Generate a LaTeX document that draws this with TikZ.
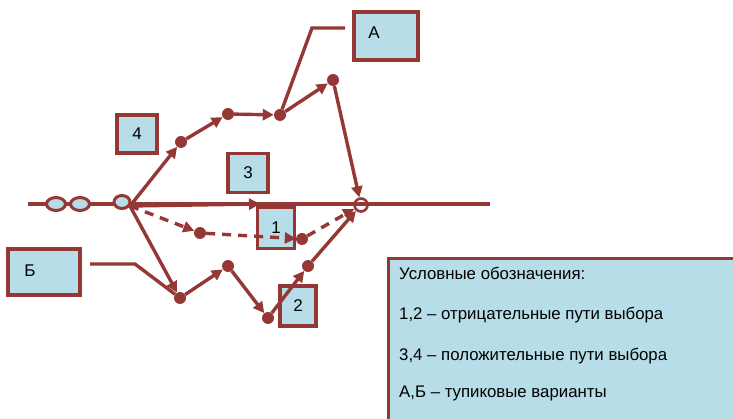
\documentclass[tikz,border=0pt]{standalone}
\usepackage{fontspec}
\setmainfont{Liberation Sans}
\usetikzlibrary{arrows.meta,shapes.geometric}
\definecolor{dred}{HTML}{953735}
\definecolor{lblue}{HTML}{B7DDE8}
\tikzset{
  ln/.style={draw=dred,line width=3.4pt},
  arr/.style={ln,-{Triangle[length=11pt,width=11pt]}},
  darr/.style={arr,dash pattern=on 9pt off 7pt},
  dot/.style={circle,fill=dred,inner sep=0pt,minimum size=12pt},
  lbl/.style={draw=dred,line width=3.4pt,fill=lblue,inner sep=0pt,font=\fontsize{17}{19}\selectfont},
  ov/.style={ellipse,draw=dred,line width=3pt,fill=lblue,minimum width=19pt,minimum height=13pt,inner sep=0pt},
  leg/.style={anchor=west,font=\fontsize{16.8}{19}\selectfont,inner sep=0pt}
}
\begin{document}
\begin{tikzpicture}[x=1pt,y=-1pt]
\useasboundingbox (0,0) rectangle (733,419);
% legend
\node[draw=dred,line width=3.4pt,fill=lblue,minimum width=360pt,minimum height=175pt,anchor=north west,inner sep=0pt] (legend) at (387,257) {};
\node[leg] (l0) at (399,273) {Условные обозначения:};
\node[leg] (l1) at (399,315) {1,2 – отрицательные пути выбора};
\node[leg] (l2) at (399,356) {3,4 – положительные пути выбора};
\node[leg] (l3) at (399,393) {А,Б – тупиковые варианты};
% label boxes
\node[lbl,minimum width=64pt,minimum height=48pt] (A) at (386,36) {};
\node[font=\fontsize{17}{19}\selectfont] (Atxt) at (374,33) {А};
\node[lbl,minimum width=40pt,minimum height=38pt] (n4) at (137,134) {4};
\node[lbl,minimum width=40pt,minimum height=39pt] (n3) at (248,173) {3};
\node[lbl,minimum width=37pt,minimum height=41pt] (n1) at (276,228) {1};
\node[lbl,minimum width=36pt,minimum height=40pt] (n2) at (298,306) {2};
\node[lbl,minimum width=72pt,minimum height=46pt] (B) at (44,272) {};
\node[font=\fontsize{17}{19}\selectfont] (Btxt) at (30,271) {Б};
% main line
\coordinate (L) at (28,204);
\coordinate (R) at (490,204);
\draw[ln] (L) -- (R);
\node[ov] (o1) at (56,204) {};
\node[ov] (o2) at (80,204) {};
\node[ov,minimum width=16pt] (o3) at (122,202) {};
\coordinate (S) at (130,206);
\node[circle,draw=dred,line width=2.6pt,minimum size=13pt,inner sep=0pt] (E) at (361,205) {};
% dots
\node[dot] (t1) at (181,142) {};
\node[dot] (t2) at (228,114) {};
\node[dot] (t3) at (280,115) {};
\node[dot] (t4) at (333,80) {};
\node[dot] (d1) at (200,233) {};
\node[dot] (d2) at (302,239) {};
\node[dot] (b1) at (180,298) {};
\node[dot] (b2) at (228,266) {};
\node[dot] (b3) at (268,318) {};
\node[dot] (b4) at (308,266) {};
% path 4 (top)
\draw[arr] (S) -- (t1);
\draw[arr] (t1) -- (t2);
\draw[arr] (t2) -- (t3);
\draw[arr] (t3) -- (t4);
\draw[arr] (t4) -- (E);
% path 3
\coordinate (m3) at (260,204);
\draw[arr] (S) -- (m3);
% path 1 (dashed)
\draw[darr] (S) -- (d1);
\draw[darr] (d1) -- (d2);
\draw[darr] (d2) -- (E);
% path 2 (bottom)
\draw[arr] (S) -- (b1);
\draw[arr] (b1) -- (b2);
\draw[arr] (b2) -- (b3);
\draw[arr] (b3) -- (b4);
\draw[arr] (b4) -- (E);
% dead-end leaders
\coordinate (a0) at (345,28);
\coordinate (a1) at (312,28);
\draw[ln] (a0) -- (a1) -- (t3);
\coordinate (c0) at (90,264);
\coordinate (c1) at (135,264);
\draw[ln] (c0) -- (c1) -- (b1);
\end{tikzpicture}
\end{document}
